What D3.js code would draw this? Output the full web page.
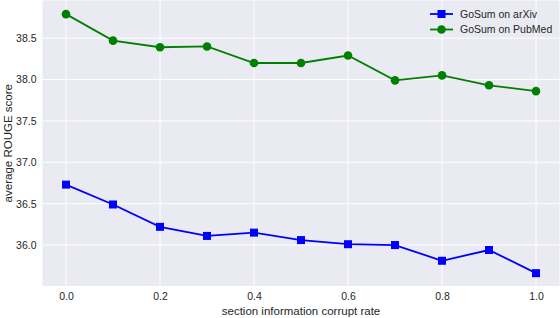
<!DOCTYPE html>
<html>
<head>
<meta charset="utf-8">
<script src="https://cdn.jsdelivr.net/npm/d3@7"></script>
<style>
  body { margin: 0; background: #fff; }
  svg text { font-family: "Liberation Sans", Arial, sans-serif; fill: #262626; }
</style>
</head>
<body>
<div id="chart"></div>
<script>
// corrupt rate on the x axis
const rates = [0.0, 0.1, 0.2, 0.3, 0.4, 0.5, 0.6, 0.7, 0.8, 0.9, 1.0];
const arxiv = [36.73, 36.49, 36.22, 36.11, 36.15, 36.06, 36.01, 36.00, 35.81, 35.94, 35.66];
const pubmed = [38.79, 38.47, 38.39, 38.40, 38.20, 38.20, 38.29, 37.99, 38.05, 37.93, 37.86];
const xTicks = [0.0, 0.2, 0.4, 0.6, 0.8, 1.0];
const yTicks = [36.0, 36.5, 37.0, 37.5, 38.0, 38.5];
const seriesNames = ["GoSum on arXiv", "GoSum on PubMed"];

const W = 560, H = 318;
const margin = {left: 42.5, right: 0.5, top: 0.5, bottom: 32};

const svg = d3.select("#chart").append("svg")
    .attr("width", W).attr("height", H);

const x = d3.scaleLinear().domain([-0.05, 1.05]).range([margin.left, W - margin.right]);
const y = d3.scaleLinear().domain([35.505, 38.955]).range([H - margin.bottom, margin.top]);

svg.append("rect")
    .attr("x", x.range()[0]).attr("y", y.range()[1])
    .attr("width", x.range()[1] - x.range()[0])
    .attr("height", y.range()[0] - y.range()[1])
    .attr("fill", "#eaeaf2");

// grid
svg.append("g").selectAll("line").data(xTicks).join("line")
    .attr("x1", d => x(d)).attr("x2", d => x(d))
    .attr("y1", y.range()[1]).attr("y2", y.range()[0])
    .attr("stroke", "#fff").attr("stroke-width", 1);
svg.append("g").selectAll("line").data(yTicks).join("line")
    .attr("y1", d => y(d)).attr("y2", d => y(d))
    .attr("x1", x.range()[0]).attr("x2", x.range()[1])
    .attr("stroke", "#fff").attr("stroke-width", 1);

// axes, no domain line / ticks
const xAxis = svg.append("g")
    .attr("transform", `translate(0,${H - margin.bottom})`)
    .call(d3.axisBottom(x).tickValues(xTicks).tickFormat(d3.format(".1f")).tickSize(0).tickPadding(7));
const yAxis = svg.append("g")
    .attr("transform", `translate(${margin.left},0)`)
    .call(d3.axisLeft(y).tickValues(yTicks).tickFormat(d3.format(".1f")).tickSize(0).tickPadding(6));
[xAxis, yAxis].forEach(a => {
    a.select(".domain").remove();
    a.selectAll("text").attr("font-size", 10.5).attr("fill", "#262626")
        .style("font-family", '"Liberation Sans", Arial, sans-serif');
});

svg.append("text")
    .attr("x", x(0.5)).attr("y", 315)
    .attr("text-anchor", "middle").attr("font-size", 11.5)
    .text("section information corrupt rate");
svg.append("text")
    .attr("transform", `translate(12,${y(37.23)}) rotate(-90)`)
    .attr("text-anchor", "middle").attr("font-size", 11.5)
    .text("average ROUGE score");

const line = d3.line().x((d, i) => x(rates[i])).y(d => y(d));

// arxiv series, blue squares
svg.append("path").datum(arxiv)
    .attr("d", line).attr("fill", "none")
    .attr("stroke", "#0000ff").attr("stroke-width", 1.8);
svg.append("g").selectAll("rect").data(arxiv).join("rect")
    .attr("x", (d, i) => x(rates[i]) - 4).attr("y", d => y(d) - 4)
    .attr("width", 8).attr("height", 8)
    .attr("fill", "#0000ff");

// pubmed series, green circles
svg.append("path").datum(pubmed)
    .attr("d", line).attr("fill", "none")
    .attr("stroke", "#008000").attr("stroke-width", 1.8);
svg.append("g").selectAll("circle").data(pubmed).join("circle")
    .attr("cx", (d, i) => x(rates[i])).attr("cy", d => y(d))
    .attr("r", 4.3)
    .attr("fill", "#008000");

// legend
const legend = svg.append("g").attr("transform", "translate(430,14)");
seriesNames.forEach((name, i) => {
    const g = legend.append("g").attr("transform", `translate(0,${i * 15.5})`);
    const col = i === 0 ? "#0000ff" : "#008000";
    g.append("line").attr("x1", 0).attr("x2", 23).attr("y1", 0).attr("y2", 0)
        .attr("stroke", col).attr("stroke-width", 1.8);
    if (i === 0) {
        g.append("rect").attr("x", 7.5).attr("y", -4).attr("width", 8).attr("height", 8).attr("fill", col);
    } else {
        g.append("circle").attr("cx", 11.5).attr("cy", 0).attr("r", 4.3).attr("fill", col);
    }
    g.append("text").attr("x", 30).attr("y", 3.8).attr("font-size", 10.5).text(name);
});
</script>
</body>
</html>
